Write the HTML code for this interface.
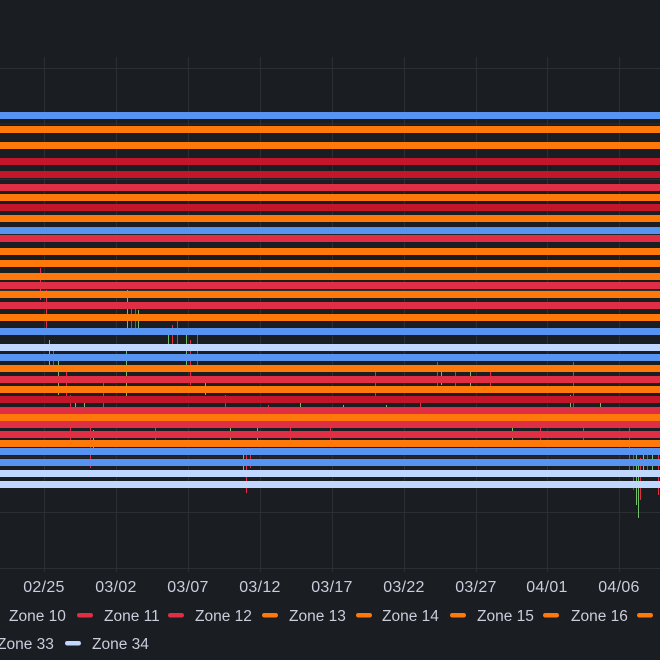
<!DOCTYPE html>
<html><head><meta charset="utf-8"><style>
html,body{margin:0;padding:0;background:#1a1d21;}
svg{display:block;}
text{font-family:"Liberation Sans",sans-serif;fill:#ccccdc;}
</style></head><body>
<svg width="660" height="660" viewBox="0 0 660 660" xmlns="http://www.w3.org/2000/svg">
<rect width="660" height="660" fill="#1a1d21"/>
<g stroke="#2b2e33" stroke-width="1">
<line x1="0" y1="68.5" x2="660" y2="68.5"/>
<line x1="0" y1="124" x2="660" y2="124"/>
<line x1="0" y1="179.5" x2="660" y2="179.5"/>
<line x1="0" y1="235" x2="660" y2="235"/>
<line x1="0" y1="290.5" x2="660" y2="290.5"/>
<line x1="0" y1="346" x2="660" y2="346"/>
<line x1="0" y1="401.5" x2="660" y2="401.5"/>
<line x1="0" y1="457" x2="660" y2="457"/>
<line x1="0" y1="512.5" x2="660" y2="512.5"/>
<line x1="0" y1="568.5" x2="660" y2="568.5"/>
<line x1="44.5" y1="57" x2="44.5" y2="572"/>
<line x1="116.5" y1="57" x2="116.5" y2="572"/>
<line x1="188.5" y1="57" x2="188.5" y2="572"/>
<line x1="260.5" y1="57" x2="260.5" y2="572"/>
<line x1="332.5" y1="57" x2="332.5" y2="572"/>
<line x1="404.5" y1="57" x2="404.5" y2="572"/>
<line x1="476.5" y1="57" x2="476.5" y2="572"/>
<line x1="547.5" y1="57" x2="547.5" y2="572"/>
<line x1="619.5" y1="57" x2="619.5" y2="572"/>
</g>
<!-- spikes -->
<g stroke-width="1">
<line x1="40.5" y1="268" x2="40.5" y2="300" stroke="#e02f44"/>
<line x1="46.5" y1="290" x2="46.5" y2="330" stroke="#e02f44"/>
<line x1="49.5" y1="340" x2="49.5" y2="365" stroke="#73bf69"/>
<line x1="53.5" y1="350" x2="53.5" y2="372" stroke="#e02f44"/>
<line x1="58.5" y1="360" x2="58.5" y2="395" stroke="#73bf69"/>
<line x1="66.5" y1="370" x2="66.5" y2="400" stroke="#e02f44"/>
<line x1="70.5" y1="395" x2="70.5" y2="440" stroke="#e02f44"/>
<line x1="75.5" y1="400" x2="75.5" y2="410" stroke="#73bf69"/>
<line x1="84.5" y1="402" x2="84.5" y2="412" stroke="#73bf69"/>
<line x1="90.5" y1="428" x2="90.5" y2="468" stroke="#e02f44"/>
<line x1="93.5" y1="430" x2="93.5" y2="455" stroke="#73bf69"/>
<line x1="103.5" y1="380" x2="103.5" y2="410" stroke="#e02f44"/>
<line x1="127.5" y1="290" x2="127.5" y2="335" stroke="#73bf69"/>
<line x1="131.5" y1="305" x2="131.5" y2="330" stroke="#e02f44"/>
<line x1="135.5" y1="305" x2="135.5" y2="330" stroke="#e02f44"/>
<line x1="138.5" y1="310" x2="138.5" y2="328" stroke="#73bf69"/>
<line x1="126.5" y1="345" x2="126.5" y2="400" stroke="#73bf69"/>
<line x1="155.5" y1="420" x2="155.5" y2="440" stroke="#e02f44"/>
<line x1="168.5" y1="335" x2="168.5" y2="350" stroke="#73bf69"/>
<line x1="172.5" y1="325" x2="172.5" y2="348" stroke="#e02f44"/>
<line x1="177.5" y1="320" x2="177.5" y2="345" stroke="#e02f44"/>
<line x1="186.5" y1="330" x2="186.5" y2="370" stroke="#73bf69"/>
<line x1="190.5" y1="340" x2="190.5" y2="385" stroke="#e02f44"/>
<line x1="197.5" y1="335" x2="197.5" y2="365" stroke="#e02f44"/>
<line x1="205.5" y1="380" x2="205.5" y2="395" stroke="#73bf69"/>
<line x1="225.5" y1="395" x2="225.5" y2="410" stroke="#e02f44"/>
<line x1="230.5" y1="425" x2="230.5" y2="442" stroke="#73bf69"/>
<line x1="243.5" y1="450" x2="243.5" y2="475" stroke="#73bf69"/>
<line x1="246.5" y1="455" x2="246.5" y2="493" stroke="#e02f44"/>
<line x1="250.5" y1="455" x2="250.5" y2="468" stroke="#e02f44"/>
<line x1="257.5" y1="425" x2="257.5" y2="445" stroke="#73bf69"/>
<line x1="268.5" y1="405" x2="268.5" y2="415" stroke="#e02f44"/>
<line x1="290.5" y1="425" x2="290.5" y2="440" stroke="#e02f44"/>
<line x1="300.5" y1="402" x2="300.5" y2="412" stroke="#73bf69"/>
<line x1="330.5" y1="425" x2="330.5" y2="440" stroke="#e02f44"/>
<line x1="343.5" y1="405" x2="343.5" y2="415" stroke="#73bf69"/>
<line x1="375.5" y1="372" x2="375.5" y2="400" stroke="#e02f44"/>
<line x1="386.5" y1="405" x2="386.5" y2="415" stroke="#73bf69"/>
<line x1="420.5" y1="400" x2="420.5" y2="412" stroke="#e02f44"/>
<line x1="437.5" y1="362" x2="437.5" y2="390" stroke="#e02f44"/>
<line x1="441.5" y1="365" x2="441.5" y2="385" stroke="#73bf69"/>
<line x1="455.5" y1="372" x2="455.5" y2="388" stroke="#e02f44"/>
<line x1="470.5" y1="372" x2="470.5" y2="392" stroke="#73bf69"/>
<line x1="490.5" y1="372" x2="490.5" y2="392" stroke="#e02f44"/>
<line x1="512.5" y1="425" x2="512.5" y2="440" stroke="#73bf69"/>
<line x1="540.5" y1="425" x2="540.5" y2="440" stroke="#e02f44"/>
<line x1="570.5" y1="395" x2="570.5" y2="410" stroke="#73bf69"/>
<line x1="573.5" y1="362" x2="573.5" y2="412" stroke="#e02f44"/>
<line x1="583.5" y1="425" x2="583.5" y2="440" stroke="#e02f44"/>
<line x1="600.5" y1="402" x2="600.5" y2="412" stroke="#73bf69"/>
<line x1="629.5" y1="425" x2="629.5" y2="470" stroke="#e02f44"/>
<line x1="633.5" y1="450" x2="633.5" y2="490" stroke="#e02f44"/>
<line x1="636.5" y1="455" x2="636.5" y2="505" stroke="#73bf69"/>
<line x1="638.5" y1="460" x2="638.5" y2="518" stroke="#73bf69"/>
<line x1="640.5" y1="458" x2="640.5" y2="500" stroke="#e02f44"/>
<line x1="643.5" y1="450" x2="643.5" y2="475" stroke="#73bf69"/>
<line x1="647.5" y1="455" x2="647.5" y2="470" stroke="#e02f44"/>
<line x1="652.5" y1="450" x2="652.5" y2="470" stroke="#73bf69"/>
<line x1="658.5" y1="455" x2="658.5" y2="495" stroke="#e02f44"/>
</g>
<!-- bands -->
<g>
<rect x="0" y="112" width="660" height="7" fill="#5794f2"/>
<rect x="0" y="126" width="660" height="7" fill="#ff780a"/>
<rect x="0" y="142" width="660" height="7" fill="#ff780a"/>
<rect x="0" y="158" width="660" height="7" fill="#c4162a"/>
<rect x="0" y="171" width="660" height="7" fill="#c4162a"/>
<rect x="0" y="184" width="660" height="7" fill="#e02f44"/>
<rect x="0" y="194" width="660" height="7" fill="#ff780a"/>
<rect x="0" y="204" width="660" height="7" fill="#c4162a"/>
<rect x="0" y="215" width="660" height="7" fill="#ff780a"/>
<rect x="0" y="227" width="660" height="7" fill="#5794f2"/>
<rect x="0" y="235" width="660" height="7" fill="#e02f44"/>
<rect x="0" y="248" width="660" height="7" fill="#ff780a"/>
<rect x="0" y="260" width="660" height="7" fill="#ff780a"/>
<rect x="0" y="273" width="660" height="7" fill="#ff780a"/>
<rect x="0" y="282" width="660" height="7" fill="#e02f44"/>
<rect x="0" y="291" width="660" height="7" fill="#ff780a"/>
<rect x="0" y="302" width="660" height="7" fill="#e02f44"/>
<rect x="0" y="314" width="660" height="7" fill="#ff780a"/>
<rect x="0" y="328" width="660" height="7" fill="#5794f2"/>
<rect x="0" y="344" width="660" height="7" fill="#c0d8ff"/>
<rect x="0" y="354" width="660" height="7" fill="#5794f2"/>
<rect x="0" y="365" width="660" height="7" fill="#ff780a"/>
<rect x="0" y="376" width="660" height="7" fill="#e02f44"/>
<rect x="0" y="386" width="660" height="7" fill="#ff780a"/>
<rect x="0" y="396" width="660" height="7" fill="#c4162a"/>
<rect x="0" y="407" width="660" height="7" fill="#e02f44"/>
<rect x="0" y="414" width="660" height="7" fill="#ff780a"/>
<rect x="0" y="421" width="660" height="7" fill="#e02f44"/>
<rect x="0" y="431" width="660" height="7" fill="#e02f44"/>
<rect x="0" y="440" width="660" height="7" fill="#ff780a"/>
<rect x="0" y="448" width="660" height="7" fill="#5794f2"/>
<rect x="0" y="459" width="660" height="7" fill="#5794f2"/>
<rect x="0" y="470" width="660" height="7" fill="#c0d8ff"/>
<rect x="0" y="481" width="660" height="7" fill="#c0d8ff"/>
</g>
<!-- x labels -->
<g font-size="16" text-anchor="middle" letter-spacing="0.3">
<text x="44" y="592">02/25</text>
<text x="116" y="592">03/02</text>
<text x="188" y="592">03/07</text>
<text x="260" y="592">03/12</text>
<text x="332" y="592">03/17</text>
<text x="404" y="592">03/22</text>
<text x="476" y="592">03/27</text>
<text x="547" y="592">04/01</text>
<text x="619" y="592">04/06</text>
</g>
<!-- legend -->
<g font-size="15.5">
<rect x="-24" y="613" width="16" height="4.5" rx="2.2" fill="#c4162a"/>
<text x="9" y="621">Zone 10</text>
<rect x="77" y="613" width="16" height="4.5" rx="2.2" fill="#e02f44"/>
<text x="104" y="621">Zone 11</text>
<rect x="168" y="613" width="16" height="4.5" rx="2.2" fill="#e02f44"/>
<text x="195" y="621">Zone 12</text>
<rect x="262" y="613" width="16" height="4.5" rx="2.2" fill="#ff780a"/>
<text x="289" y="621">Zone 13</text>
<rect x="356" y="613" width="16" height="4.5" rx="2.2" fill="#ff780a"/>
<text x="382" y="621">Zone 14</text>
<rect x="450" y="613" width="16" height="4.5" rx="2.2" fill="#ff780a"/>
<text x="477" y="621">Zone 15</text>
<rect x="543" y="613" width="16" height="4.5" rx="2.2" fill="#ff780a"/>
<text x="571" y="621">Zone 16</text>
<rect x="637" y="613" width="16" height="4.5" rx="2.2" fill="#ff780a"/>
<text x="-3" y="649">Zone 33</text>
<rect x="65" y="641" width="16" height="4.5" rx="2.2" fill="#c0d8ff"/>
<text x="92" y="649">Zone 34</text>
</g>
</svg>
</body></html>
